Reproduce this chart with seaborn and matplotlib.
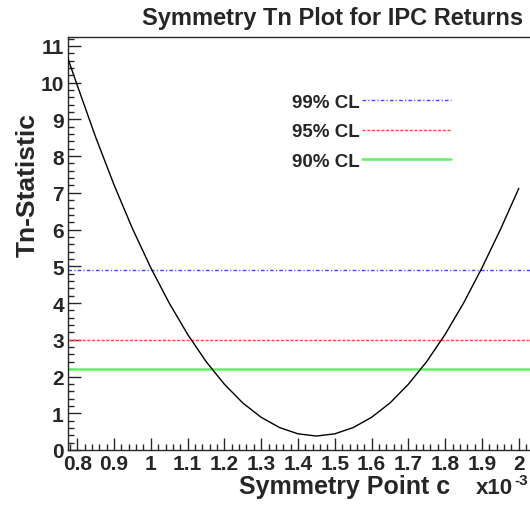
import matplotlib
matplotlib.use("Agg")
import matplotlib.pyplot as plt
import seaborn as sns
import pandas as pd
from matplotlib.ticker import MultipleLocator

# symmetry point c (units of 1e-3) and Tn statistic
c_points = [0.775, 0.80, 0.85, 0.90, 0.95, 1.00, 1.05, 1.10, 1.15, 1.20, 1.25, 1.30, 1.35,
            1.40, 1.45, 1.50, 1.55, 1.60, 1.65, 1.70, 1.75, 1.80, 1.85, 1.90, 1.95, 2.00]
tn_values = [10.65, 9.93, 8.52, 7.22, 6.03, 4.96, 4.00, 3.15, 2.41, 1.79, 1.28, 0.89, 0.61,
             0.44, 0.38, 0.44, 0.61, 0.89, 1.28, 1.79, 2.41, 3.15, 4.00, 4.96, 6.00, 7.12]

cl_labels = ["99% CL", "95% CL", "90% CL"]
cl_levels = [4.90, 3.00, 2.20]
cl_colors = ["#4444ff", "#ff4444", "#66ee66"]

curve = pd.DataFrame({"c": c_points, "tn": tn_values})

sns.set_style("ticks")
plt.rcParams["font.family"] = ["Liberation Sans", "DejaVu Sans"]
plt.rcParams["font.weight"] = "bold"

fig = plt.figure(figsize=(5.3, 5.06), dpi=100)
ax = fig.add_axes([68 / 530, 55 / 506, 465.5 / 530, 413.3 / 506])

sns.lineplot(data=curve, x="c", y="tn", color="black", linewidth=1.0, ax=ax, zorder=3)

styles = [dict(dashes=(2.6, 1.6, 0.8, 1.6), lw=1.0),
          dict(dashes=(2.2, 1.2), lw=1.0),
          dict(dashes=None, lw=1.8)]
for label, level, color, st in zip(cl_labels, cl_levels, cl_colors, styles):
    line = ax.axhline(level, color=color, lw=st["lw"], label=label)
    if st["dashes"] is not None:
        line.set_dashes(st["dashes"])

ax.set_xlim(0.775, 2.04)
ax.set_ylim(0, 11.25)
ax.xaxis.set_major_locator(MultipleLocator(0.1))
ax.xaxis.set_minor_locator(MultipleLocator(0.02))
ax.yaxis.set_major_locator(MultipleLocator(1))
ax.yaxis.set_minor_locator(MultipleLocator(0.2))
ax.xaxis.set_major_formatter(plt.FuncFormatter(lambda v, p: f"{v:g}"))
ax.tick_params(which="major", direction="in", length=9, width=1, labelsize=15, pad=3)
ax.tick_params(which="minor", direction="in", length=4.5, width=1)
for lab in ax.get_xticklabels() + ax.get_yticklabels():
    lab.set_fontweight("bold")
for sp in ax.spines.values():
    sp.set_linewidth(1.0)
ax.set_xlabel("")
ax.set_ylabel("")

ax.legend(loc="upper left", bbox_to_anchor=(0.446, 0.903), frameon=False, markerfirst=False,
          handlelength=4.75, handletextpad=0.1, labelspacing=0.66,
          prop={"weight": "bold", "size": 13.5})

fig.text(333 / 530, 1 - 19 / 506, "Symmetry Tn Plot for IPC Returns", ha="center", va="center",
         fontsize=17, fontweight="bold")
fig.text(450 / 530, 1 - 494 / 506, "Symmetry Point c", ha="right", va="baseline",
         fontsize=18, fontweight="bold")
fig.text(476 / 530, 1 - 494 / 506, "x10", ha="left", va="baseline", fontsize=16, fontweight="bold")
fig.text(514 / 530, 1 - 474 / 506, "-3", ha="left", va="top", fontsize=11, fontweight="bold")
fig.text(28 / 530, 1 - 185 / 506, "Tn-Statistic", ha="center", va="center", rotation=90,
         fontsize=19, fontweight="bold")

fig.savefig("out.png", dpi=100)
